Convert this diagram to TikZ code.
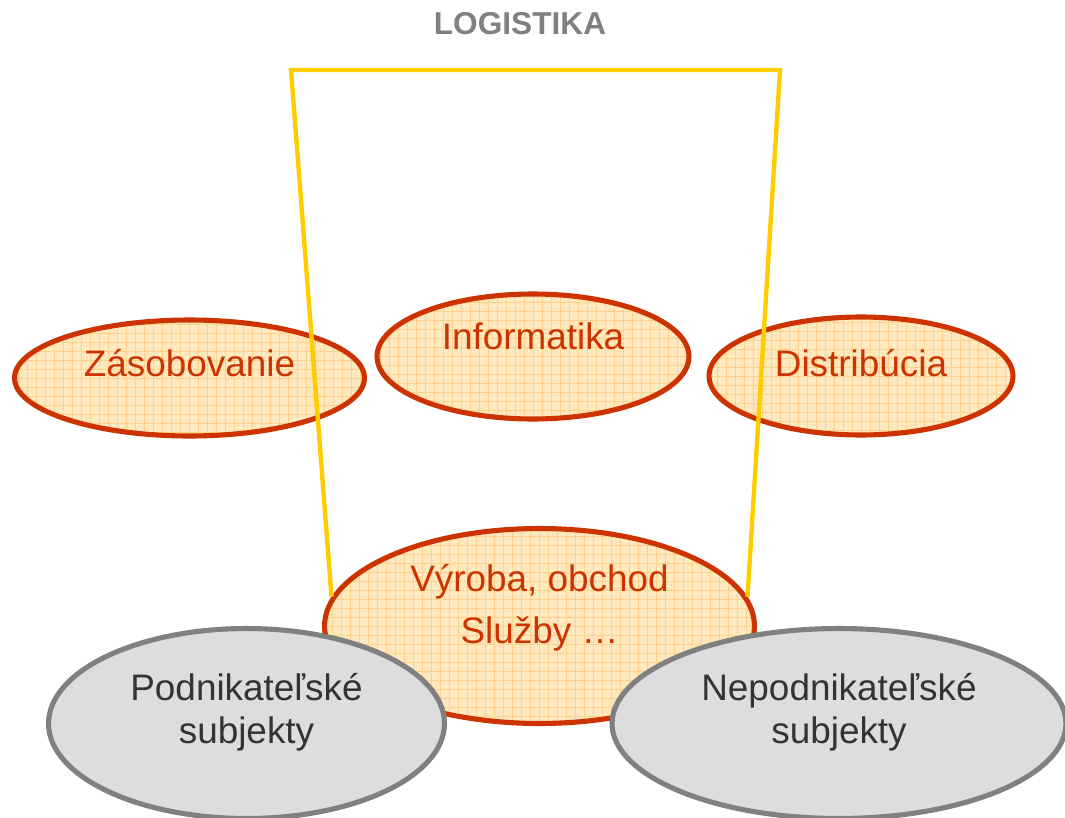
\documentclass[tikz,border=0pt]{standalone}
\usepackage{fontspec}
\setmainfont{Liberation Sans}
\usepackage{tikz}
\usetikzlibrary{shapes.geometric, positioning}

\definecolor{rustred}{HTML}{CC3300}
\definecolor{peach}{HTML}{FFE8BE}
\definecolor{gridorange}{HTML}{FED28A}
\definecolor{lightgray}{HTML}{DDDDDD}
\definecolor{midgray}{HTML}{808080}
\definecolor{darktext}{HTML}{333333}
\definecolor{goldline}{HTML}{FFCC00}

\tikzset{
    orangeell/.style={ellipse, draw=rustred, line width=2.9pt, fill=peach, inner sep=0pt,
        path picture={\draw[gridorange, line width=0.45pt, step=0.18cm]
            (path picture bounding box.south west) grid (path picture bounding box.north east);}},
    grayell/.style={ellipse, draw=midgray, line width=2.9pt, fill=lightgray, inner sep=0pt},
    otext/.style={anchor=base, inner sep=0pt, text=rustred, font=\fontsize{21}{25}\selectfont},
    gtext/.style={anchor=base, inner sep=0pt, text=darktext, font=\fontsize{21}{25}\selectfont},
    frameline/.style={goldline, line width=2.5pt, line join=miter}
}

\begin{document}
\begin{tikzpicture}[x=0.02cm, y=-0.02cm]
    \useasboundingbox (0,0) rectangle (1065,818);

    % title
    \node[anchor=base, inner sep=0pt, text=midgray, font=\fontsize{18}{22}\selectfont\bfseries] (logist) at (520,34) {LOGISTIKA};

    % middle ellipse and the two subject groups
    \node[orangeell, minimum width=8.6cm, minimum height=3.9cm] (vyroba) at (539.5,626) {};
    \node[otext] (vyroba1) at (539.5,591) {Výroba, obchod};
    \node[otext] (vyroba2) at (539.5,643) {Služby …};

    \node[grayell, minimum width=7.92cm, minimum height=3.8cm] (podn) at (246.5,723.5) {};
    \node[gtext] (podn1) at (246.5,700) {Podnikateľské};
    \node[gtext] (podn2) at (246.5,743) {subjekty};

    \node[grayell, minimum width=9.08cm, minimum height=3.8cm] (nepodn) at (839,723.5) {};
    \node[gtext] (nepodn1) at (839,700) {Nepodnikateľské};
    \node[gtext] (nepodn2) at (839,743) {subjekty};

    % upper row
    \node[orangeell, minimum width=7cm, minimum height=2.32cm] (zas) at (189.5,378) {};
    \node[otext] (zast) at (189.5,376) {Zásobovanie};

    \node[orangeell, minimum width=6.24cm, minimum height=2.5cm] (info) at (533,356.5) {};
    \node[otext] (infot) at (533,349) {Informatika};

    \node[orangeell, minimum width=6.08cm, minimum height=2.36cm] (distr) at (861,376) {};
    \node[otext] (distrt) at (861,376) {Distribúcia};

    % logistics frame
    \coordinate (frameL) at (291,70);
    \coordinate (frameR) at (780,70);
    \draw[frameline] (vyroba.172) -- (frameL) -- (frameR) -- (vyroba.8);
\end{tikzpicture}
\end{document}
